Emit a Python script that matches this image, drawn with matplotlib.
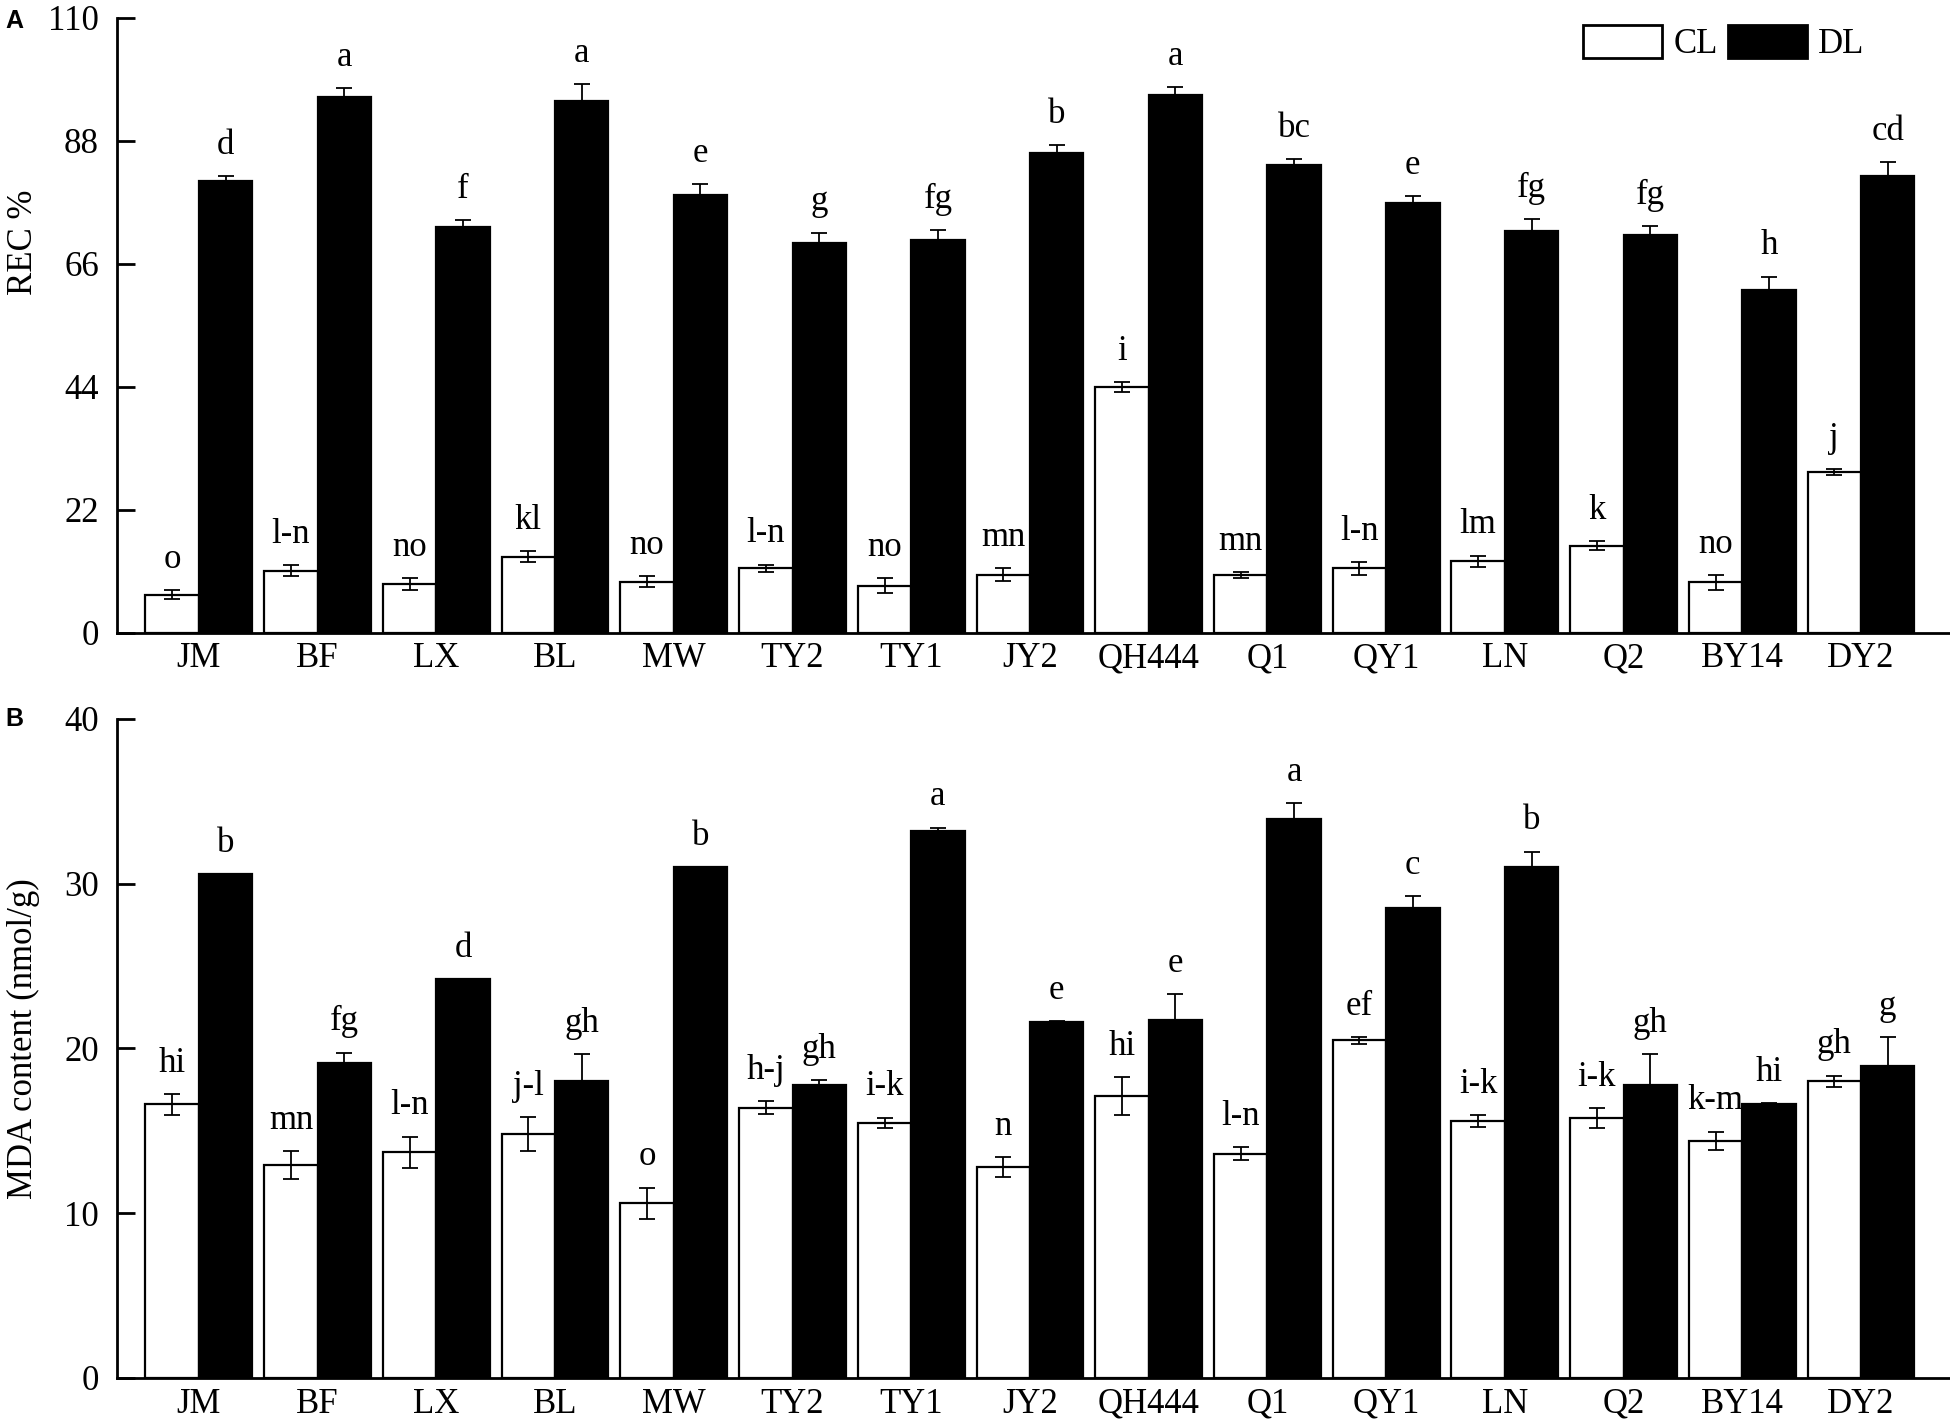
import numpy as np
import matplotlib.pyplot as plt
from matplotlib.patches import Patch

plt.rcParams['font.family'] = ['Liberation Serif', 'DejaVu Serif']

cultivars = ['JM', 'BF', 'LX', 'BL', 'MW', 'TY2', 'TY1', 'JY2', 'QH444',
             'Q1', 'QY1', 'LN', 'Q2', 'BY14', 'DY2']

# panel A: REC %
rec_cl = [6.8, 11.1, 8.7, 13.6, 9.1, 11.5, 8.4, 10.4, 43.9, 10.3, 11.5, 12.8, 15.6, 9.0, 28.8]
rec_cl_err = [0.8, 1.0, 1.0, 1.0, 1.0, 0.7, 1.3, 1.1, 0.9, 0.5, 1.1, 1.0, 0.8, 1.3, 0.5]
rec_dl = [80.9, 95.9, 72.6, 95.2, 78.3, 69.8, 70.2, 85.8, 96.2, 83.7, 76.9, 71.9, 71.1, 61.3, 81.7]
rec_dl_err = [0.8, 1.6, 1.2, 2.9, 2.0, 1.8, 1.8, 1.4, 1.4, 1.1, 1.2, 2.1, 1.7, 2.4, 2.5]
rec_cl_sig = ['o', 'l-n', 'no', 'kl', 'no', 'l-n', 'no', 'mn', 'i', 'mn', 'l-n', 'lm', 'k', 'no', 'j']
rec_dl_sig = ['d', 'a', 'f', 'a', 'e', 'g', 'fg', 'b', 'a', 'bc', 'e', 'fg', 'fg', 'h', 'cd']

# panel B: MDA content
mda_cl = [16.6, 12.9, 13.7, 14.8, 10.6, 16.4, 15.5, 12.8, 17.1, 13.6, 20.5, 15.6, 15.8, 14.4, 18.0]
mda_cl_err = [0.65, 0.85, 0.95, 1.05, 0.95, 0.4, 0.3, 0.6, 1.15, 0.4, 0.2, 0.35, 0.6, 0.55, 0.35]
mda_dl = [30.6, 19.1, 24.2, 18.0, 31.0, 17.8, 33.2, 21.6, 21.75, 33.95, 28.5, 31.0, 17.8, 16.6, 18.96]
mda_dl_err = [0, 0.65, 0, 1.65, 0, 0.3, 0.2, 0.05, 1.55, 0.95, 0.75, 0.95, 1.85, 0.1, 1.75]
mda_cl_sig = ['hi', 'mn', 'l-n', 'j-l', 'o', 'h-j', 'i-k', 'n', 'hi', 'l-n', 'ef', 'i-k', 'i-k', 'k-m', 'gh']
mda_dl_sig = ['b', 'fg', 'd', 'gh', 'b', 'gh', 'a', 'e', 'e', 'a', 'c', 'b', 'gh', 'hi', 'g']

FS = 25
w = 0.45
x = np.arange(len(cultivars))


def draw_panel(ax, cl, cl_err, dl, dl_err, cl_sig, dl_sig, ymax, yticks):
    ax.bar(x - w / 2, cl, w, color='white', edgecolor='black', linewidth=1.6, zorder=2)
    ax.bar(x + w / 2, dl, w, color='black', edgecolor='black', linewidth=1.6, zorder=2)
    ax.errorbar(x - w / 2, cl, yerr=cl_err, fmt='none', ecolor='black',
                elinewidth=1.3, capsize=6, capthick=1.3, zorder=3)
    ax.errorbar(x + w / 2, dl, yerr=dl_err, fmt='none', ecolor='black',
                elinewidth=1.3, capsize=6, capthick=1.3, zorder=3)
    for i in range(len(x)):
        ax.annotate(cl_sig[i], (x[i] - w / 2, cl[i] + cl_err[i]), xytext=(0, 16),
                    textcoords='offset points', ha='center', va='baseline', fontsize=FS)
        ax.annotate(dl_sig[i], (x[i] + w / 2, dl[i] + dl_err[i]), xytext=(0, 16),
                    textcoords='offset points', ha='center', va='baseline', fontsize=FS)
    ax.set_xlim(-0.69, 14.75)
    ax.set_ylim(0, ymax)
    ax.set_yticks(yticks)
    ax.set_xticks(x)
    ax.set_xticklabels(cultivars)
    for s in ['top', 'right']:
        ax.spines[s].set_visible(False)
    for s in ['left', 'bottom']:
        ax.spines[s].set_linewidth(2)
    ax.tick_params(axis='y', direction='in', length=13, width=2, pad=13, labelsize=FS)
    ax.tick_params(axis='x', length=0, pad=7, labelsize=FS)


fig = plt.figure(figsize=(19.5, 14.25), dpi=100)
ax1 = fig.add_axes([0.06, 0.556, 0.94, 0.4314])
ax2 = fig.add_axes([0.06, 0.033, 0.94, 0.4625])

draw_panel(ax1, rec_cl, rec_cl_err, rec_dl, rec_dl_err, rec_cl_sig, rec_dl_sig,
           110, [0, 22, 44, 66, 88, 110])
draw_panel(ax2, mda_cl, mda_cl_err, mda_dl, mda_dl_err, mda_cl_sig, mda_dl_sig,
           40, [0, 10, 20, 30, 40])

fig.text(0.012, 0.83, 'REC %', rotation=90, ha='center', va='center', fontsize=FS)
fig.text(0.012, 0.271, 'MDA content (nmol/g)', rotation=90, ha='center', va='center', fontsize=FS)

fig.text(0.003, 0.985, 'A', fontsize=18, fontweight='bold', family='Liberation Sans',
         ha='left', va='center')
fig.text(0.003, 0.4955, 'B', fontsize=18, fontweight='bold', family='Liberation Sans',
         ha='left', va='center')

handles = [Patch(facecolor='white', edgecolor='black', linewidth=2, label='CL'),
           Patch(facecolor='black', edgecolor='black', linewidth=2, label='DL')]
fig.legend(handles=handles, loc='upper left', bbox_to_anchor=(1583 / 1950, 1 - 25 / 1425),
           ncol=2, frameon=False, fontsize=FS, handlelength=2.28, handleheight=1.1,
           handletextpad=0.32, columnspacing=0.29, borderpad=0, borderaxespad=0)

fig.savefig('out.png', dpi=100)
